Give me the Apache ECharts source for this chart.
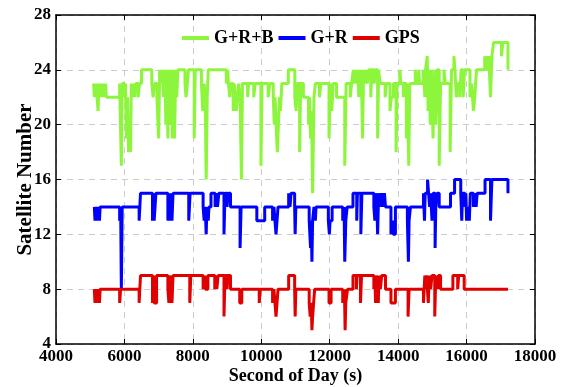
<!DOCTYPE html>
<html>
<head>
<meta charset="utf-8">
<script src="https://cdn.jsdelivr.net/npm/echarts@6/dist/echarts.min.js"></script>
<style>
  html, body { margin: 0; padding: 0; background: #fff; }
  #chart { width: 562px; height: 387px; }
</style>
</head>
<body>
<div id="chart"></div>
<script>
// x axis ticks (second of day) and y axis ticks (satellite number)
var xTicks = [4000, 6000, 8000, 10000, 12000, 14000, 16000, 18000];
var yTicks = [4, 8, 12, 16, 20, 24, 28];

var seriesNames = ['G+R+B', 'G+R', 'GPS'];

// change points [second, satellites], value holds until the next point
var grbData = [
    [5100, 23], [5120, 22], [5140, 23], [5160, 22], [5180, 23], [5200, 22], [5230, 21], [5255, 23], [5275, 22], [5300, 23], [5320, 22], [5345, 23], [5370, 22], [5400, 23], [5430, 22], [5450, 23], [5470, 22],
    [5860, 23], [5910, 17], [5935, 23],
    [6000, 22], [6030, 23], [6060, 19], [6090, 22], [6120, 18], [6150, 19], [6180, 18], [6200, 23], [6240, 22], [6270, 23], [6300, 22], [6330, 23],
    [6400, 22], [6440, 23], [6500, 24],
    [6800, 23], [6840, 22], [6880, 23], [6950, 22], [7000, 19], [7030, 24],
    [7080, 23], [7110, 24], [7140, 22], [7160, 23], [7190, 24], [7210, 20], [7230, 22], [7250, 24], [7270, 19], [7300, 24], [7320, 21], [7340, 20], [7370, 24], [7385, 22], [7400, 19], [7430, 23], [7445, 24], [7460, 19], [7480, 21], [7500, 24], [7530, 22], [7560, 24],
    [7770, 23], [7800, 22], [7840, 23], [7870, 24], [8040, 19], [8070, 24],
    [8250, 23], [8290, 21], [8330, 23], [8360, 22], [8390, 16], [8420, 22], [8450, 24],
    [8980, 23], [9020, 24], [9040, 23], [9080, 22], [9110, 23],
    [9180, 21], [9210, 23], [9240, 22], [9270, 21], [9300, 22], [9340, 23], [9380, 22], [9420, 16], [9450, 23],
    [9600, 22], [9630, 23], [9780, 22], [9820, 23],
    [9990, 17], [10020, 23],
    [10200, 22], [10250, 23],
    [10350, 22], [10380, 20], [10400, 22], [10420, 21], [10450, 19], [10470, 18], [10500, 20], [10530, 22], [10560, 21], [10600, 23],
    [10790, 24], [10980, 22], [11020, 21], [11050, 23],
    [11120, 18], [11150, 23],
    [11230, 22], [11380, 20], [11410, 22], [11440, 19], [11470, 21], [11500, 15], [11540, 22], [11580, 23],
    [11700, 22], [11740, 23],
    [11980, 19], [12020, 23], [12060, 21], [12100, 23],
    [12200, 22], [12440, 17], [12480, 23],
    [12600, 22], [12640, 23],
    [12690, 24], [12720, 23], [12760, 24], [12790, 23], [12820, 24], [12850, 22], [12900, 24], [12930, 23], [12960, 19], [12990, 24], [13020, 23], [13060, 24], [13100, 23], [13140, 24],
    [13200, 22], [13230, 24], [13300, 23], [13340, 24], [13400, 19], [13430, 24],
    [13470, 23], [13620, 22], [13660, 23],
    [13760, 21], [13800, 22], [13860, 23], [13940, 18], [13970, 23],
    [14050, 24], [14080, 23], [14150, 22], [14180, 23], [14240, 19], [14270, 23], [14310, 17], [14340, 23],
    [14500, 24], [14530, 23], [14600, 24], [14630, 23],
    [14730, 24], [14760, 23], [14780, 22], [14800, 24], [14850, 25], [14875, 21], [14900, 24], [14920, 22], [14940, 20], [14960, 23], [14980, 24], [15000, 21], [15020, 19], [15040, 22], [15060, 23], [15080, 24], [15100, 20], [15120, 22], [15140, 24], [15200, 17], [15240, 23],
    [15340, 24], [15380, 23], [15520, 18], [15560, 24], [15630, 25], [15660, 24], [15700, 22], [15740, 23], [15800, 22], [15840, 24], [15900, 22], [15940, 24],
    [16100, 22], [16150, 23], [16200, 21], [16240, 22], [16290, 24],
    [16530, 25], [16560, 24], [16580, 25], [16620, 24], [16650, 25], [16700, 22], [16740, 25], [16790, 26], [17020, 25], [17060, 26], [17210, 24]
];

var grData = [
    [5120, 14], [5140, 13], [5160, 14], [5180, 13], [5200, 14], [5230, 13], [5250, 14], [5270, 13], [5290, 14],
    [5860, 13], [5890, 14], [5910, 8], [5935, 14],
    [6430, 13], [6470, 15],
    [6820, 13], [6850, 15], [6870, 13], [6920, 15],
    [7270, 13], [7300, 15], [7330, 13], [7360, 15], [7390, 13], [7420, 15],
    [7880, 13], [7920, 15],
    [8300, 14], [8330, 13], [8360, 14], [8390, 12], [8410, 14], [8450, 13], [8470, 14], [8530, 15],
    [8650, 14], [8680, 15], [8720, 14], [8760, 15], [8910, 12], [8940, 15], [9000, 14], [9030, 15], [9100, 14],
    [9380, 11], [9410, 14],
    [9870, 13], [10100, 14],
    [10330, 13], [10370, 14], [10400, 13], [10430, 12], [10460, 13], [10490, 14],
    [10800, 15], [10840, 14], [10870, 15], [10975, 14], [10990, 12], [11010, 14],
    [11400, 13], [11440, 11], [11460, 13], [11480, 10], [11500, 13], [11540, 14], [11580, 13], [11600, 14],
    [11960, 13], [11990, 12], [12010, 13], [12070, 14],
    [12380, 13], [12420, 14], [12440, 10], [12470, 13], [12510, 14],
    [12680, 15], [12790, 13], [12810, 15], [12910, 12], [12940, 15],
    [13290, 14], [13320, 13], [13350, 15], [13380, 14], [13400, 12], [13430, 15], [13480, 14], [13520, 15], [13570, 14], [13600, 15], [13630, 14],
    [13790, 12], [13830, 13], [13860, 12], [13920, 14],
    [14270, 13], [14300, 10], [14320, 13], [14360, 14],
    [14740, 15], [14770, 13], [14790, 15], [14860, 16], [14890, 15], [14920, 14], [14950, 15], [14990, 13], [15020, 15], [15080, 11], [15100, 14], [15140, 15], [15200, 14],
    [15530, 15], [15650, 16], [15830, 15], [15860, 13], [15880, 15], [15950, 14], [15980, 15], [16000, 13], [16040, 14], [16080, 13], [16110, 15],
    [16200, 14], [16230, 15], [16280, 14], [16310, 15], [16540, 16], [16700, 13], [16740, 16], [17210, 15]
];

var gpsData = [
    [5120, 8], [5140, 7], [5160, 8], [5180, 7], [5200, 8], [5230, 7], [5250, 8], [5270, 7], [5290, 8],
    [5860, 7], [5890, 8],
    [6430, 7], [6470, 9],
    [6820, 7], [6850, 9], [6870, 7], [6940, 9],
    [7270, 8], [7300, 7], [7330, 9], [7360, 8], [7390, 7], [7420, 9],
    [7910, 7], [7940, 9],
    [8300, 8], [8350, 9], [8370, 8], [8440, 9],
    [8640, 8], [8670, 9], [8700, 8], [8740, 9], [8910, 6], [8940, 9], [9000, 8], [9030, 9], [9100, 8],
    [9370, 7], [9430, 8],
    [9940, 7], [9970, 8],
    [10330, 7], [10370, 8], [10400, 7], [10430, 6], [10460, 7], [10490, 8],
    [10800, 9], [10975, 8], [10990, 6], [11010, 8],
    [11400, 7], [11430, 6], [11460, 7], [11480, 5], [11500, 6], [11530, 7], [11560, 8],
    [11980, 7], [12040, 8],
    [12380, 7], [12430, 8], [12450, 5], [12470, 7], [12520, 8],
    [12680, 9], [12780, 8], [12800, 9], [12900, 7], [12930, 9],
    [13290, 8], [13320, 9], [13340, 7], [13360, 9], [13390, 8], [13420, 7], [13440, 9], [13480, 8], [13520, 9], [13630, 8],
    [13790, 7], [13920, 8],
    [14290, 6], [14320, 8],
    [14740, 7], [14780, 9], [14800, 8], [14830, 9], [14880, 7], [14910, 9], [14950, 8], [14990, 9], [15070, 6], [15100, 9], [15150, 8], [15180, 9], [15240, 8],
    [15600, 9], [15740, 8], [15770, 9], [15930, 8],
    [17210, 8]
];

var chart = echarts.init(document.getElementById('chart'));

var font = 'Liberation Serif, Times New Roman, serif';

function frameAxis(pos, isX) {
    return {
        type: 'value',
        position: pos,
        min: isX ? xTicks[0] : yTicks[0],
        max: isX ? xTicks[xTicks.length - 1] : yTicks[yTicks.length - 1],
        interval: isX ? 2000 : 4,
        axisLine: { show: true, lineStyle: { color: '#000', width: 1.5 } },
        axisTick: { show: true, inside: true, length: 5, lineStyle: { color: '#000', width: 1 } },
        axisLabel: { show: false },
        splitLine: { show: false }
    };
}

var option = {
    animation: false,
    color: ['#8cf53c', '#0000ff', '#e00000'],
    grid: { left: 56, right: 27, top: 15, bottom: 43, containLabel: false, outerBoundsMode: 'none' },
    legend: {
        data: seriesNames,
        left: 177,
        top: 24,
        itemWidth: 27,
        itemHeight: 4,
        itemGap: 5,
        icon: 'rect',
        textStyle: { fontFamily: font, fontWeight: 'bold', fontSize: 18, color: '#000' }
    },
    xAxis: [{
        type: 'value',
        min: xTicks[0],
        max: xTicks[xTicks.length - 1],
        interval: 2000,
        name: 'Second of Day (s)',
        nameLocation: 'middle',
        nameGap: 23,
        nameMoveOverlap: false,
        nameTextStyle: { fontFamily: font, fontWeight: 'bold', fontSize: 18, color: '#000' },
        axisLine: { show: true, lineStyle: { color: '#000', width: 1.5 } },
        axisTick: { inside: true, length: 5, lineStyle: { color: '#000' } },
        axisLabel: {
            fontFamily: font, fontWeight: 'bold', fontSize: 17, color: '#000', margin: 4,
            formatter: function (v) { return String(v); }
        },
        splitLine: { show: true, lineStyle: { color: '#cccccc', type: [6, 5], width: 1 } }
    }, frameAxis('top', true)],
    yAxis: [{
        type: 'value',
        min: yTicks[0],
        max: yTicks[yTicks.length - 1],
        interval: 4,
        name: 'Satellite Number',
        nameLocation: 'middle',
        nameGap: 20,
        nameMoveOverlap: false,
        nameTextStyle: { fontFamily: font, fontWeight: 'bold', fontSize: 21, color: '#000' },
        axisLine: { show: true, lineStyle: { color: '#000', width: 1.5 } },
        axisTick: { inside: true, length: 5, lineStyle: { color: '#000' } },
        axisLabel: { fontFamily: font, fontWeight: 'bold', fontSize: 17, color: '#000', margin: 5 },
        splitLine: { show: true, lineStyle: { color: '#cccccc', type: [6, 5], width: 1 } }
    }, frameAxis('right', false)],
    series: [{
        name: seriesNames[0],
        type: 'line',
        step: 'end',
        showSymbol: false,
        lineStyle: { width: 3 },
        data: grbData
    }, {
        name: seriesNames[1],
        type: 'line',
        step: 'end',
        showSymbol: false,
        lineStyle: { width: 3 },
        data: grData
    }, {
        name: seriesNames[2],
        type: 'line',
        step: 'end',
        showSymbol: false,
        lineStyle: { width: 3 },
        data: gpsData
    }]
};

chart.setOption(option);
</script>
</body>
</html>
